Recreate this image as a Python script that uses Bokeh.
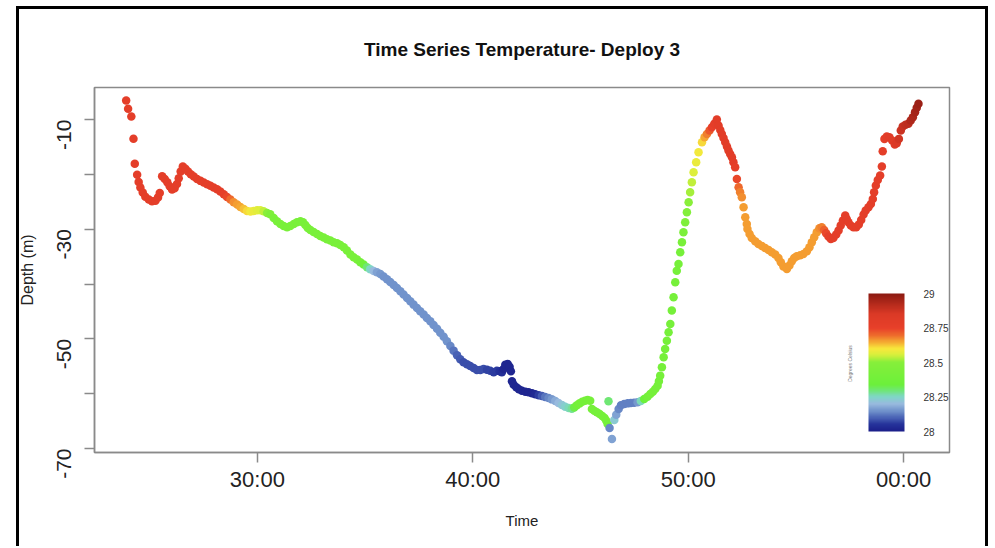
import math
import numpy as np
from bokeh.plotting import figure
from bokeh.models import (ColumnDataSource, LinearColorMapper, ColorBar, FixedTicker, Label)
from bokeh.embed import file_html
from bokeh.resources import INLINE

# ---------------- data ----------------
time_min = [
    23.91, 24.00, 24.15, 24.25, 24.31, 24.42, 24.49, 24.57, 24.68, 24.80, 24.96, 25.11, 25.27, 25.39, 25.47,
    25.58, 25.70, 25.82, 25.93, 26.04, 26.16, 26.27, 26.35, 26.44, 26.54, 26.66, 26.78, 26.91, 27.05, 27.20,
    27.36, 27.51, 27.67, 27.82, 27.97, 28.13, 28.28, 28.44, 28.59, 28.75, 28.90, 29.06, 29.21, 29.37, 29.52,
    29.68, 29.83, 29.99, 30.14, 30.29, 30.45, 30.60,
    30.76, 30.91, 31.07, 31.22, 31.38, 31.53, 31.69, 31.84, 32.00, 32.12, 32.23, 32.34, 32.46, 32.61, 32.77,
    32.92, 33.08, 33.23, 33.39, 33.54, 33.70, 33.85, 34.01, 34.16, 34.32, 34.47, 34.63, 34.78, 34.93, 35.09,
    35.24, 35.40, 35.55, 35.71, 35.86, 36.02, 36.17, 36.33, 36.48, 36.64, 36.79, 36.95, 37.10, 37.25, 37.41,
    37.56, 37.72, 37.87, 38.03, 38.18, 38.34, 38.49, 38.65, 38.80, 38.96, 39.11, 39.27, 39.42, 39.57, 39.73,
    39.88, 40.04, 40.19, 40.35, 40.50, 40.66, 40.81,
    40.97, 41.12, 41.25, 41.35, 41.43, 41.51, 41.62, 41.71, 41.77, 41.82, 41.90, 42.02, 42.14, 42.28, 42.44,
    42.59, 42.75, 42.90, 43.06, 43.21, 43.36, 43.52, 43.67, 43.83, 43.98, 44.14, 44.29, 44.45, 44.60, 44.71,
    44.83, 44.96, 45.08, 45.21, 45.33, 45.45, 45.53, 45.64, 45.76, 45.89, 46.01, 46.12, 46.20, 46.26, 46.30,
    46.35, 46.46, 46.57, 46.66, 46.77, 46.88, 47.03, 47.19, 47.34, 47.49, 47.65, 47.80, 47.96, 48.11, 48.24,
    48.36, 48.47, 48.58, 48.64,
    48.70, 48.78, 48.86, 48.93, 49.01, 49.09, 49.17, 49.24, 49.32, 49.40, 49.47, 49.55, 49.63, 49.71, 49.78,
    49.86, 49.94, 50.02, 50.09, 50.17, 50.25, 50.37, 50.48, 50.64, 50.76, 50.87, 50.99, 51.10, 51.21, 51.33,
    51.41, 51.49, 51.56, 51.64, 51.72, 51.80, 51.87, 51.95, 52.03, 52.10, 52.18, 52.26, 52.34, 52.41, 52.49,
    52.57, 52.65, 52.72, 52.75,
    52.85, 52.95, 53.11, 53.26, 53.42, 53.57, 53.73, 53.88, 54.04, 54.19, 54.30, 54.42, 54.58, 54.70, 54.81,
    54.92, 55.04, 55.20, 55.35, 55.51, 55.63, 55.74, 55.85, 55.97, 56.09, 56.20, 56.31, 56.40, 56.51, 56.62,
    56.74, 56.87, 56.98, 57.08, 57.18, 57.29, 57.36, 57.44, 57.55, 57.67, 57.80, 57.92, 58.03, 58.14, 58.24,
    58.37, 58.48, 58.57, 58.63, 58.71, 58.80, 58.91, 58.99, 59.03, 59.11, 59.22, 59.34, 59.47, 59.59, 59.68,
    59.78, 59.87, 59.96, 60.09, 60.22, 60.33, 60.43, 60.53, 60.61, 60.69,
]

depth_m = [
    -6.53, -8.05, -9.45, -13.52, -18.08, -20.09, -21.40, -22.40, -23.30, -24.10, -24.60, -24.90, -24.80, -24.20, -23.40,
    -20.34, -20.83, -21.43, -22.17, -22.77, -22.53, -21.74, -20.71, -19.49, -18.58, -19.00, -19.49, -19.98, -20.40, -20.83,
    -21.19, -21.50, -21.80, -22.10, -22.41, -22.71, -23.14, -23.63, -24.11, -24.60, -25.09, -25.51, -25.94, -26.30, -26.67,
    -26.79, -26.67, -26.54, -26.54, -26.73, -27.03, -27.27,
    -27.94, -28.55, -29.04, -29.40, -29.65, -29.40, -29.04, -28.73, -28.55, -28.73, -29.22, -29.77, -30.13, -30.50, -30.86,
    -31.23, -31.53, -31.84, -32.08, -32.38, -32.57, -32.87, -33.30, -33.91, -34.63, -35.12, -35.55, -36.03, -36.46, -36.95,
    -37.31, -37.62, -37.86, -38.16, -38.65, -39.14, -39.62, -40.17, -40.72, -41.33, -41.93, -42.54, -43.15, -43.76, -44.37,
    -44.98, -45.58, -46.19, -46.80, -47.47, -48.14, -48.87, -49.60, -50.45, -51.30, -52.15, -53.00, -53.73, -54.28, -54.65,
    -54.95, -55.32, -55.68, -55.68, -55.50, -55.62, -55.80,
    -56.11, -55.80, -55.93, -56.11, -55.50, -54.71, -54.59, -55.07, -55.93, -57.75, -58.36, -58.85, -59.21, -59.45, -59.64,
    -59.76, -59.94, -60.12, -60.31, -60.43, -60.61, -60.79, -61.04, -61.34, -61.70, -62.07, -62.37, -62.62, -62.74, -62.50,
    -62.13, -61.77, -61.46, -61.28, -61.16, -61.28, -62.80, -63.10, -63.41, -63.71, -64.08, -64.44, -64.93, -65.54, -61.40,
    -66.27, -68.27, -64.81, -63.83, -62.80, -62.13, -61.89, -61.77, -61.70, -61.64, -61.58, -61.34, -60.97, -60.55, -60.06,
    -59.64, -59.15, -58.54, -57.75,
    -56.71, -55.19, -53.37, -51.85, -50.33, -48.81, -47.29, -44.85, -42.42, -39.68, -37.56, -36.34, -34.21, -32.38, -30.56,
    -28.73, -26.91, -25.09, -23.26, -21.44, -19.61, -17.79, -15.96, -14.14, -13.22, -12.62, -12.01, -11.40, -10.79, -10.00,
    -11.10, -11.89, -12.62, -13.35, -14.14, -14.93, -15.66, -16.27, -16.87, -17.79, -18.70, -20.83, -22.35, -23.26, -24.17,
    -26.00, -27.82, -29.04, -29.95,
    -30.86, -31.59, -32.20, -32.69, -33.05, -33.42, -33.78, -34.21, -34.63, -35.24, -36.03, -36.82, -37.25, -36.64, -35.85,
    -35.24, -34.94, -34.76, -34.51, -34.03, -33.30, -32.38, -31.47, -30.56, -29.83, -29.65, -30.13, -30.74, -31.35, -31.78,
    -31.59, -30.98, -30.26, -29.34, -28.43, -27.52, -28.13, -28.73, -29.34, -29.65, -29.65, -29.16, -28.31, -27.34, -26.61,
    -26.00, -25.39, -24.48, -23.26, -22.04, -21.01, -20.22, -18.58, -15.78, -13.53, -13.10, -13.22, -13.83, -14.56, -14.32,
    -13.53, -12.01, -11.28, -10.97, -10.79, -10.18, -9.57, -8.66, -7.87, -7.14,
]

temp_c = [
    28.78, 28.78, 28.78, 28.78, 28.78, 28.78, 28.78, 28.78, 28.78, 28.78, 28.78, 28.78, 28.78, 28.78, 28.78,
    28.78, 28.78, 28.78, 28.78, 28.78, 28.78, 28.78, 28.78, 28.78, 28.78, 28.78, 28.78, 28.78, 28.78, 28.78,
    28.78, 28.78, 28.78, 28.78, 28.78, 28.78, 28.78, 28.77, 28.74, 28.70, 28.67, 28.66, 28.65, 28.63, 28.61,
    28.59, 28.58, 28.57, 28.56, 28.54, 28.50, 28.45,
    28.42, 28.42, 28.42, 28.42, 28.42, 28.42, 28.42, 28.42, 28.42, 28.42, 28.42, 28.42, 28.42, 28.42, 28.42,
    28.42, 28.42, 28.42, 28.42, 28.42, 28.42, 28.42, 28.42, 28.42, 28.42, 28.42, 28.42, 28.40, 28.36, 28.30,
    28.25, 28.20, 28.17, 28.16, 28.15, 28.15, 28.15, 28.15, 28.15, 28.15, 28.15, 28.15, 28.15, 28.15, 28.15,
    28.15, 28.15, 28.15, 28.15, 28.15, 28.15, 28.15, 28.15, 28.15, 28.14, 28.12, 28.10, 28.09, 28.08, 28.08,
    28.08, 28.08, 28.08, 28.08, 28.08, 28.07, 28.07,
    28.06, 28.06, 28.05, 28.04, 28.02, 28.02, 28.02, 28.02, 28.02, 28.02, 28.02, 28.02, 28.02, 28.02, 28.02,
    28.02, 28.02, 28.03, 28.06, 28.09, 28.12, 28.14, 28.16, 28.18, 28.20, 28.22, 28.24, 28.26, 28.28, 28.33,
    28.38, 28.40, 28.40, 28.40, 28.40, 28.40, 28.40, 28.40, 28.40, 28.40, 28.40, 28.40, 28.40, 28.38, 28.30,
    28.14, 28.17, 28.23, 28.17, 28.14, 28.13, 28.13, 28.13, 28.13, 28.13, 28.16, 28.26, 28.34, 28.38, 28.40,
    28.40, 28.40, 28.40, 28.40,
    28.40, 28.40, 28.40, 28.40, 28.40, 28.40, 28.40, 28.40, 28.40, 28.40, 28.40, 28.40, 28.40, 28.42, 28.44,
    28.46, 28.48, 28.50, 28.52, 28.54, 28.56, 28.58, 28.59, 28.61, 28.65, 28.68, 28.72, 28.76, 28.78, 28.80,
    28.80, 28.80, 28.80, 28.80, 28.80, 28.80, 28.80, 28.80, 28.80, 28.79, 28.77, 28.74, 28.70, 28.68, 28.67,
    28.66, 28.66, 28.66, 28.66,
    28.66, 28.66, 28.66, 28.66, 28.66, 28.66, 28.66, 28.66, 28.66, 28.66, 28.66, 28.66, 28.66, 28.66, 28.66,
    28.66, 28.66, 28.66, 28.66, 28.66, 28.66, 28.66, 28.66, 28.66, 28.67, 28.68, 28.71, 28.74, 28.77, 28.78,
    28.78, 28.78, 28.78, 28.78, 28.78, 28.78, 28.78, 28.78, 28.78, 28.78, 28.78, 28.78, 28.78, 28.78, 28.78,
    28.78, 28.78, 28.78, 28.78, 28.78, 28.78, 28.78, 28.78, 28.78, 28.78, 28.80, 28.81, 28.82, 28.83, 28.85,
    28.87, 28.88, 28.89, 28.90, 28.91, 28.93, 28.94, 28.95, 28.96, 28.97,
]

x_tick_vals = [30, 40, 50, 60]
x_tick_labels = ["30:00", "40:00", "50:00", "00:00"]
y_tick_vals = [-10, -20, -30, -40, -50, -60, -70]
y_tick_labels = ["-10", "", "-30", "", "-50", "", "-70"]
cbar_tick_vals = [28.0, 28.25, 28.5, 28.75, 29.0]
cbar_tick_labels = ["28", "28.25", "28.5", "28.75", "29"]

# ---------------- colour scale ----------------
stops = [
    (28.00, "#1b1f8a"), (28.05, "#25329a"), (28.10, "#4a64b6"), (28.15, "#7294cc"),
    (28.20, "#98bade"), (28.25, "#80d6c8"), (28.30, "#6ee870"), (28.34, "#6cf03a"),
    (28.50, "#86ef3a"), (28.56, "#dcef3c"), (28.60, "#f7e83c"), (28.65, "#f5a832"),
    (28.70, "#ee6a2c"), (28.75, "#e8402a"), (28.85, "#dc3a26"), (29.00, "#8c1a12"),
]
sv = np.array([s[0] for s in stops])
rgb = np.array([[int(h[i:i + 2], 16) for i in (1, 3, 5)] for _, h in stops], dtype=float)
grid_t = np.linspace(28.0, 29.0, 256)
palette = []
for tt in grid_t:
    c = [int(round(np.interp(tt, sv, rgb[:, k]))) for k in range(3)]
    palette.append("#%02x%02x%02x" % tuple(c))

mapper = LinearColorMapper(palette=palette, low=28.0, high=29.0)

src = ColumnDataSource(dict(t=time_min, d=depth_m, temp=temp_c))

FONT = "Liberation Sans"

p = figure(width=976, height=540, x_range=(22.44, 62.13), y_range=(-70.73, -4.16),
           output_backend="svg", toolbar_location=None,
           title="Time Series Temperature- Deploy 3")
# outer black frame (open at the bottom), drawn as inset shadows on the page element
p.styles = {"margin-left": "12px", "margin-top": "6px",
            "background-color": "white",
            "box-shadow": ("inset 4px 0 0 0 white, inset 7px 0 0 0 black, "
                           "inset -3px 0 0 0 black, inset 0 3px 0 0 black")}
p.border_fill_color = None
p.background_fill_color = "white"
p.min_border_left = 82
p.min_border_right = 39
p.min_border_top = 81
p.min_border_bottom = 94
p.grid.grid_line_color = None
p.outline_line_color = "#8a8a8a"
p.outline_line_width = 1.5

p.title.text_font = FONT
p.title.text_font_size = "19px"
p.title.text_font_style = "bold"
p.title.align = "center"
p.title.text_color = "#111111"
p.title.standoff = 56

for ax in (p.xaxis[0], p.yaxis[0]):
    ax.axis_line_color = "#8a8a8a"
    ax.axis_line_width = 1.5
    ax.major_tick_line_color = "#8a8a8a"
    ax.major_tick_line_width = 1.5
    ax.major_tick_out = 10
    ax.major_tick_in = 0
    ax.minor_tick_line_color = None
    ax.major_label_text_font = FONT
    ax.major_label_text_color = "#222222"
    ax.axis_label_text_font = FONT
    ax.axis_label_text_font_style = "normal"
    ax.axis_label_text_color = "#222222"

p.xaxis.ticker = FixedTicker(ticks=x_tick_vals)
p.xaxis.major_label_overrides = dict(zip(x_tick_vals, x_tick_labels))
p.xaxis.major_label_text_font_size = "22px"
p.xaxis.major_label_standoff = 4
p.xaxis.axis_label = "Time"
p.xaxis.axis_label_text_font_size = "15px"
p.xaxis.axis_label_standoff = 17

p.yaxis.ticker = FixedTicker(ticks=y_tick_vals)
p.yaxis.major_label_overrides = dict(zip(y_tick_vals, y_tick_labels))
p.yaxis.major_label_text_font_size = "21px"
p.yaxis.major_label_orientation = math.pi / 2
p.yaxis.major_label_standoff = 20
p.yaxis.axis_label = "Depth (m)"
p.yaxis.axis_label_text_font_size = "16px"
p.yaxis.axis_label_standoff = 12

p.scatter(x="t", y="d", source=src, size=8.5,
          fill_color={"field": "temp", "transform": mapper}, line_color=None)

cb = ColorBar(color_mapper=mapper, location=(774, 21), width=36, height=138,
              padding=0, margin=0,
              ticker=FixedTicker(ticks=cbar_tick_vals),
              major_label_overrides=dict(zip(cbar_tick_vals, cbar_tick_labels)),
              major_label_text_font=FONT, major_label_text_font_size="10px",
              major_label_text_color="#333333", major_label_text_align="center",
              label_standoff=19,
              major_tick_line_color=None, bar_line_color=None,
              border_line_color=None, background_fill_alpha=0)
p.add_layout(cb, "center")

p.add_layout(Label(x=57.52, y=-54.5, text="Degrees Celsius", angle=math.pi / 2,
                   text_align="center", text_baseline="middle",
                   text_font=FONT, text_font_size="5px", text_color="#777777"))

open("out.html", "w").write(file_html(p, INLINE))
